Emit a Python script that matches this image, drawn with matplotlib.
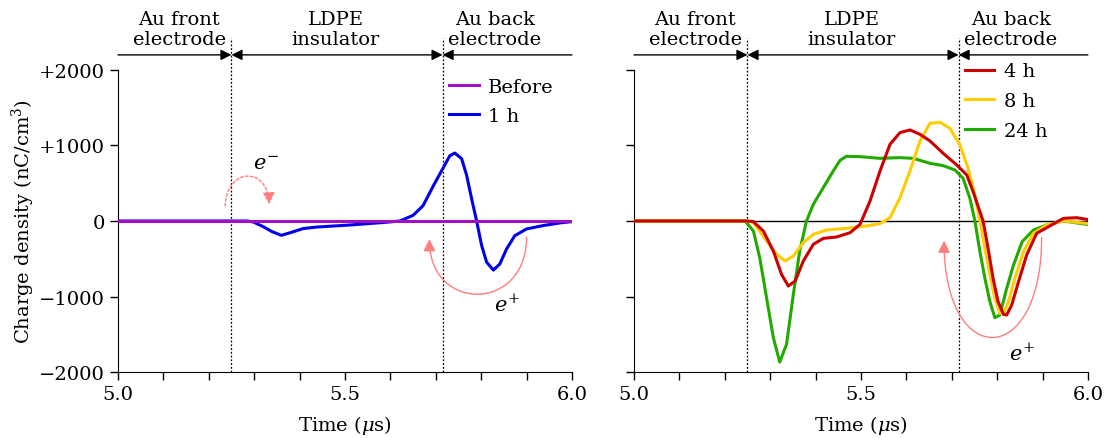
import matplotlib
matplotlib.use('Agg')
import matplotlib.pyplot as plt
from matplotlib.patches import FancyArrowPatch
from matplotlib.path import Path
from matplotlib.ticker import MultipleLocator, FixedLocator

plt.rcParams['font.family'] = ['DejaVu Serif']
plt.rcParams['mathtext.fontset'] = 'dejavuserif'
plt.rcParams['font.size'] = 14

# electrode boundaries (us)
front_edge = 5.25
back_edge = 5.715

# charge density profiles, nC/cm^3
t_before = [5.0, 5.25, 5.5, 5.75, 6.0]
q_before = [0, 0, 0, 0, 0]

t_1h = [5.0, 5.25, 5.285, 5.298, 5.32, 5.339, 5.36, 5.382, 5.408, 5.438, 5.511, 5.584, 5.621,
        5.65, 5.672, 5.695, 5.717, 5.731, 5.742, 5.757, 5.768, 5.779, 5.79, 5.801, 5.812,
        5.827, 5.841, 5.856, 5.874, 5.9, 5.937, 5.974, 6.0]
q_1h = [0, 0, 0, -13, -75, -140, -190, -150, -100, -80, -53, -20, 0,
        75, 203, 470, 711, 865, 900, 825, 605, 295, 0, -323, -545,
        -650, -570, -370, -195, -105, -60, -25, -8]

t_4h = [5.0, 5.25, 5.263, 5.285, 5.307, 5.325, 5.34, 5.355, 5.373, 5.395, 5.417, 5.446, 5.476,
        5.498, 5.52, 5.542, 5.564, 5.586, 5.608, 5.63, 5.652, 5.681, 5.711, 5.733, 5.747,
        5.769, 5.78, 5.791, 5.802, 5.814, 5.821, 5.832, 5.847, 5.865, 5.887, 5.917, 5.946,
        5.975, 5.997]
q_4h = [0, 0, -9, -133, -398, -707, -861, -795, -530, -309, -230, -212, -155,
        -44, 265, 663, 1016, 1171, 1206, 1148, 1060, 897, 742, 610, 389,
        0, -362, -760, -1069, -1237, -1245, -1113, -804, -450, -163, -62, 35,
        44, 22]

t_8h = [5.0, 5.25, 5.263, 5.292, 5.314, 5.333, 5.351, 5.373, 5.395, 5.424, 5.468, 5.512, 5.542,
        5.564, 5.586, 5.608, 5.63, 5.652, 5.674, 5.696, 5.718, 5.736, 5.751, 5.762, 5.773,
        5.784, 5.795, 5.806, 5.814, 5.825, 5.839, 5.858, 5.88, 5.909, 5.946, 5.997]
q_8h = [0, 0, -22, -265, -442, -530, -464, -287, -177, -119, -97, -66, -35,
        44, 309, 663, 1060, 1294, 1307, 1228, 1007, 698, 345, 0, -362,
        -716, -1025, -1223, -1223, -1069, -760, -406, -163, -53, 0, -31]

t_24h = [5.0, 5.245, 5.263, 5.277, 5.292, 5.307, 5.321, 5.336, 5.351, 5.365, 5.38, 5.395, 5.417,
         5.439, 5.454, 5.468, 5.498, 5.542, 5.586, 5.615, 5.652, 5.681, 5.707, 5.725, 5.74,
         5.751, 5.762, 5.773, 5.784, 5.795, 5.806, 5.821, 5.836, 5.855, 5.88, 5.909, 5.946,
         5.997]
q_24h = [0, 0, -133, -486, -1016, -1546, -1868, -1634, -972, -398, 0, 221, 442,
         663, 804, 857, 852, 830, 839, 830, 764, 733, 676, 565, 300,
         0, -406, -760, -1069, -1281, -1245, -892, -583, -274, -119, -53, 0,
         -44]

region_labels = ['Au front\nelectrode', 'LDPE\ninsulator', 'Au back\nelectrode']
region_centres = [5.135, 5.48, 5.83]

pink = '#ff7f7f'


def region_header(ax):
    for x in (front_edge, back_edge):
        ax.plot([x, x], [-2000, 2420], ls=(0, (1.5, 1.5)), color='black', lw=0.9,
                clip_on=False, zorder=1)
    y = 2200
    kw = dict(arrowstyle='-|>', color='black', lw=1, mutation_scale=16, shrinkA=0, shrinkB=0)
    ax.annotate('', xy=(front_edge, y), xytext=(5.0, y), arrowprops=kw, annotation_clip=False)
    ax.annotate('', xy=(back_edge, y), xytext=(6.0, y), arrowprops=kw, annotation_clip=False)
    kw2 = dict(kw, arrowstyle='<|-|>')
    ax.annotate('', xy=(back_edge, y), xytext=(front_edge, y), arrowprops=kw2,
                annotation_clip=False)
    for lab, xc in zip(region_labels, region_centres):
        ax.text(xc, 2290, lab, ha='center', va='bottom', linespacing=1.12)


def u_arrow(ax, x0, y0, x1, y1, ybottom):
    path = Path([(x0, y0), (x0, ybottom), (x1, ybottom), (x1, y1)],
                [Path.MOVETO, Path.CURVE4, Path.CURVE4, Path.CURVE4])
    arr = FancyArrowPatch(path=path, arrowstyle='-|>', color=pink, lw=1,
                          mutation_scale=18, shrinkA=0, shrinkB=0)
    ax.add_patch(arr)


def style_axes(ax, ylabels):
    ax.set_xlim(5.0, 6.0)
    ax.set_ylim(-2000, 2000)
    ax.spines['top'].set_visible(False)
    ax.spines['right'].set_visible(False)
    ax.xaxis.set_major_locator(FixedLocator([5.0, 5.5, 6.0]))
    ax.xaxis.set_minor_locator(MultipleLocator(0.1))
    ax.set_yticks([-2000, -1000, 0, 1000, 2000])
    ax.tick_params(which='both', direction='out', length=6, width=1)
    ax.set_xticklabels(['5.0', '5.5', '6.0'])
    if ylabels:
        ax.set_yticklabels(['\u22122000', '\u22121000', '0', '+1000', '+2000'])
    else:
        ax.set_yticklabels([])
    ax.set_xlabel('Time ($\\mu$s)', labelpad=7)


fig = plt.figure(figsize=(11.08, 4.39), dpi=100)
ax1 = fig.add_axes([0.1065, 0.1503, 0.4097, 0.688])
ax2 = fig.add_axes([0.5722, 0.1503, 0.4097, 0.688])

leg_kw = dict(loc='upper left', frameon=False, borderpad=0, borderaxespad=0,
              handlelength=1.5, handletextpad=0.5, labelspacing=0.6)

# left panel: before and after 1 h
style_axes(ax1, True)
ax1.set_ylabel('Charge density (nC/cm$^3$)', labelpad=1)
ax1.plot(t_1h, q_1h, color='#0000ee', lw=2.2, label='1 h', zorder=3)
ax1.plot(t_before, q_before, color='#a010c0', lw=2.2, label='Before', zorder=4)
h, l = ax1.get_legend_handles_labels()
ax1.legend(h[::-1], l[::-1], bbox_to_anchor=(0.73, 0.975), **leg_kw)
region_header(ax1)

ax1.add_patch(FancyArrowPatch(path=Path([(5.236, 200), (5.24, 720), (5.33, 720), (5.333, 220)],
                                        [Path.MOVETO, Path.CURVE4, Path.CURVE4, Path.CURVE4]),
                              arrowstyle='-|>', color=pink, lw=1, ls=(0, (2, 1.5)),
                              mutation_scale=18, shrinkA=0, shrinkB=0))
ax1.text(5.325, 760, '$e^{-}$', ha='center', va='center', fontsize=15)
u_arrow(ax1, 5.9, -216, 5.686, -240, -1213)
ax1.text(5.857, -1100, '$e^{+}$', ha='center', va='center', fontsize=15)

# right panel: 4 h, 8 h, 24 h
style_axes(ax2, False)
ax2.plot([5.0, 6.0], [0, 0], color='black', lw=1, zorder=2)
ax2.plot(t_24h, q_24h, color='#22aa00', lw=2.2, label='24 h', zorder=3)
ax2.plot(t_8h, q_8h, color='#ffcc00', lw=2.2, label='8 h', zorder=4)
ax2.plot(t_4h, q_4h, color='#cc0000', lw=2.2, label='4 h', zorder=5)
h, l = ax2.get_legend_handles_labels()
ax2.legend(h[::-1], l[::-1], bbox_to_anchor=(0.729, 1.025), **leg_kw)
region_header(ax2)
u_arrow(ax2, 5.898, -216, 5.683, -260, -1975)
ax2.text(5.854, -1740, '$e^{+}$', ha='center', va='center', fontsize=15)

fig.savefig('out.png', dpi=100)
